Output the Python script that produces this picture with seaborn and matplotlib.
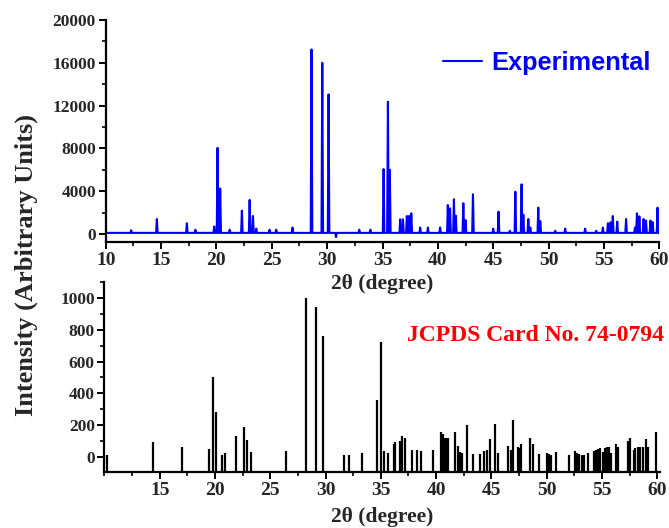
import numpy as np
import pandas as pd
import matplotlib
matplotlib.use("Agg")
import matplotlib.pyplot as plt
from matplotlib.ticker import MultipleLocator
from matplotlib.font_manager import FontProperties
import seaborn as sns

# ---- Experimental XRD pattern: peak positions (2theta) and intensities ----
exp_pos = [12.3, 14.62, 17.33, 18.1, 19.8, 20.1, 20.34, 21.2, 22.3, 23.0, 23.3, 23.6,
           24.8, 25.4, 26.87, 28.59, 29.56, 30.13, 30.8, 32.9, 33.9, 35.1, 35.49, 35.66,
           36.6, 36.85, 37.2, 37.4, 37.6, 38.4, 39.1, 40.2, 40.9, 41.1, 41.45, 41.62,
           42.3, 42.5, 43.17, 45.0, 45.48, 46.5, 47.0, 47.56, 47.72, 48.17, 48.35,
           49.07, 49.25, 50.6, 51.5, 53.3, 54.3, 54.9, 55.36, 55.6, 55.8, 56.2, 57.0,
           57.8, 57.98, 58.2, 58.58, 58.8, 59.2, 59.4, 59.84, 60.0]
exp_int = [350, 1400, 1000, 400, 700, 8050, 4250, 400, 2180, 3180, 1680, 500,
           400, 400, 600, 17250, 16000, 13050, -300, 400, 400, 6070, 12350, 6000,
           1370, 1370, 1680, 1680, 1930, 600, 600, 600, 2710, 2400, 3240, 1700,
           2870, 1300, 3710, 500, 2090, 300, 3950, 4640, 1800, 1400, 600,
           2460, 1200, 300, 500, 500, 300, 600, 1000, 1100, 1680, 1150, 1400,
           600, 1930, 1650, 1400, 1250, 1250, 1100, 2460, 1700]
exp_baseline = 100
exp_range = [10.0, 60.0]

# ---- JCPDS Card No. 74-0794 reference lines ----
ref_pos = [10.2, 14.35, 17.03, 19.47, 19.85, 20.05, 20.59, 20.92, 21.94, 22.6, 22.9, 23.23,
           26.46, 28.27, 29.17, 29.77, 31.64, 32.09, 33.32, 34.64, 35.02, 35.3, 35.66,
           36.15, 36.3, 36.76, 36.94, 37.15, 37.8, 38.3, 38.6, 39.74, 40.4, 40.6, 40.75,
           40.85, 40.95, 41.05, 41.75, 42.0, 42.2, 42.36, 42.75, 43.32, 44.0, 44.37, 44.6,
           44.91, 45.34, 45.64, 46.54, 46.78, 46.99, 47.38, 47.53, 47.69, 48.53, 48.74,
           49.28, 50.04, 50.25, 50.4, 50.88, 51.99, 52.59, 52.74, 52.95, 53.16, 53.34,
           53.7, 54.25, 54.46, 54.67, 54.85, 55.06, 55.24, 55.42, 55.6, 55.82, 56.27,
           56.48, 57.32, 57.53, 57.86, 58.01, 58.22, 58.44, 58.67, 58.98, 59.21, 59.88]
ref_int = [10, 91, 63, 49, 501, 284, 10, 25, 133, 190, 105, 28,
           36, 1000, 943, 764, 10, 10, 25, 358, 726, 38, 24,
           80, 95, 101, 133, 116, 40, 44, 36, 44, 158, 143, 116,
           116, 116, 116, 156, 70, 28, 24, 200, 15, 15, 36, 42,
           112, 204, 21, 68, 42, 232, 63, 57, 80, 116, 80,
           15, 21, 17, 10, 32, 10, 36, 25, 15, 12, 12,
           21, 36, 40, 48, 57, 32, 57, 63, 63, 25, 80,
           59, 101, 116, 42, 53, 63, 63, 63, 110, 63, 153]

top_yticks = [0, 4000, 8000, 12000, 16000, 20000]
bot_yticks = [0, 200, 400, 600, 800, 1000]
top_xticks = [10, 15, 20, 25, 30, 35, 40, 45, 50, 55, 60]
bot_xticks = [15, 20, 25, 30, 35, 40, 45, 50, 55, 60]

# build polyline vertices of the experimental pattern from the peak list
hw = 0.07
xs = [exp_range[0]]
ys = [exp_baseline]
for p, h in sorted(zip(exp_pos, exp_int)):
    xs += [p - hw, p, p + hw]
    ys += [exp_baseline, h, exp_baseline]
xs.append(exp_range[1])
ys.append(exp_baseline)
df_exp = pd.DataFrame({"two_theta": xs, "intensity": ys})
df_exp = df_exp[df_exp.two_theta <= exp_range[1]]

sns.set_theme(style="ticks")
serif = "Liberation Serif"
plt.rcParams["font.family"] = [serif, "DejaVu Serif"]

fp_ytick = FontProperties(family=serif, weight="bold", size=12.5)
fp_xtick = FontProperties(family=serif, weight="bold", size=14)

fig = plt.figure(figsize=(6.69, 5.28), dpi=100)
ax2 = fig.add_axes([0.1562, 0.1061, 0.8303, 0.3598])
ax1 = fig.add_axes([0.158, 0.5417, 0.8275, 0.4204])
ax2.patch.set_visible(False)
ax1.patch.set_visible(False)

sns.lineplot(data=df_exp, x="two_theta", y="intensity", ax=ax1, color="#0000ff",
             linewidth=1.5, label="Experimental", sort=False, estimator=None)
ax1.set_xlim(10, 60)
ax1.set_ylim(-750, 20000)

ax2.vlines(ref_pos, -97, ref_int, colors="black", linewidth=1.6)
ax2.set_xlim(10, 60.25)
ax2.set_ylim(-97, 1103)

for ax, yt, xt, ymin, lp in ((ax1, top_yticks, top_xticks, 2000, 4),
                             (ax2, bot_yticks, bot_xticks, 100, 6)):
    for s in ("top", "right"):
        ax.spines[s].set_visible(False)
    for s in ("left", "bottom"):
        ax.spines[s].set_linewidth(1.6)
        ax.spines[s].set_color("black")
    ax.set_yticks(yt)
    ax.set_yticklabels([str(v) for v in yt], fontproperties=fp_ytick)
    ax.set_xticks(xt)
    ax.set_xticklabels([str(v) for v in xt], fontproperties=fp_xtick)
    ax.yaxis.set_minor_locator(MultipleLocator(ymin))
    ax.xaxis.set_minor_locator(MultipleLocator(2.5))
    ax.tick_params(which="major", direction="out", length=5, width=1.4, color="black", pad=2)
    ax.tick_params(which="minor", direction="out", length=3, width=1.2, color="black")
    ax.set_ylabel("")
    ax.set_xlabel("2θ (degree)", fontsize=15.5, fontweight="bold", family=serif, labelpad=lp)

leg = ax1.legend(loc="center right", bbox_to_anchor=(1.002, 0.806), frameon=False,
                 handlelength=1.55, handletextpad=0.35, borderaxespad=0,
                 prop={"family": "Liberation Sans", "weight": "bold", "size": 18.3})
for t in leg.get_texts():
    t.set_color("#0000ff")

ax2.text(1.007, 0.721, "JCPDS Card No. 74-0794", transform=ax2.transAxes, ha="right",
         va="center", color="#ff0000", fontsize=17, fontweight="bold", family=serif)

fig.text(0.040, 0.499, "Intensity (Arbitrary Units)", rotation=90, ha="center", va="center",
         fontsize=19, fontweight="bold", family=serif)

fig.savefig("out.png", dpi=100, facecolor="white")
